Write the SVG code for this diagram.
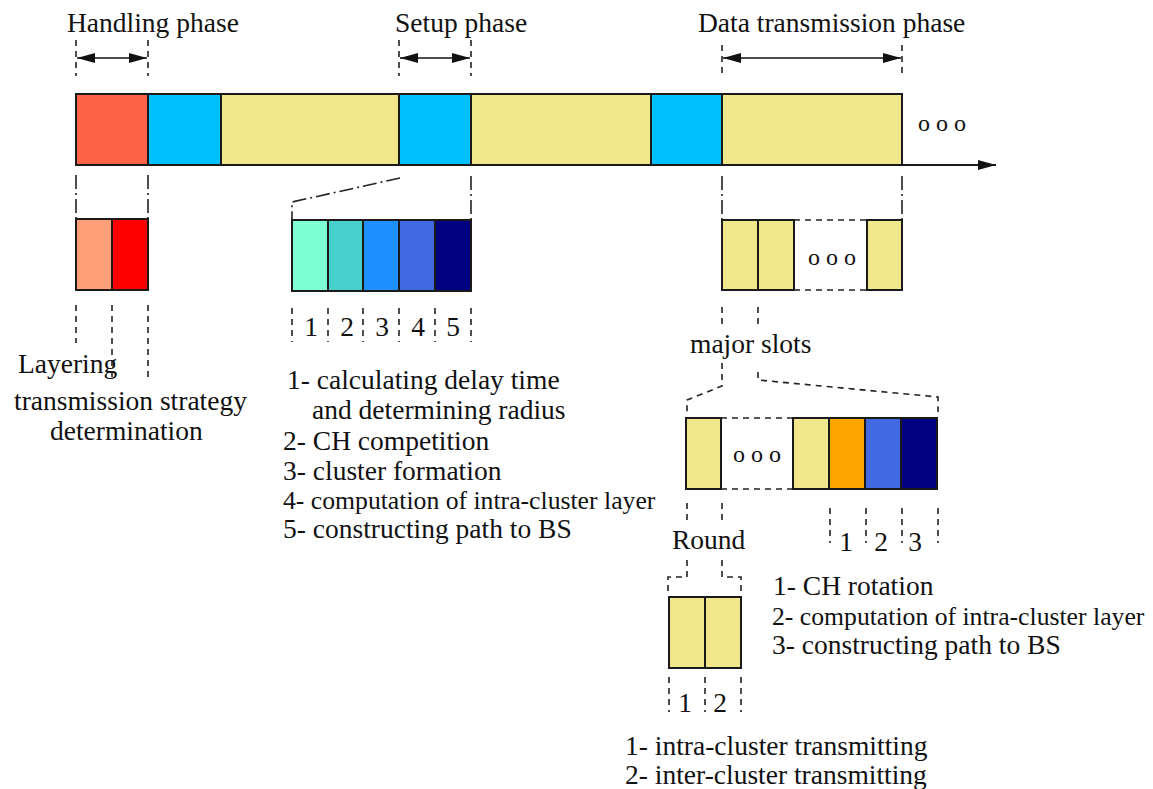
<svg xmlns="http://www.w3.org/2000/svg" width="1153" height="789" viewBox="0 0 1153 789">
<style>
.blk{stroke:#1a1a1a;stroke-width:2}
.dash{fill:none;stroke:#222;stroke-width:1.6;stroke-dasharray:6 5}
.dd{fill:none;stroke:#222;stroke-width:1.6;stroke-dasharray:14 4 2 4}
.arr{fill:none;stroke:#111;stroke-width:1.6}
text{font-family:"Liberation Serif","Times New Roman",serif;font-size:27.5px;fill:#111}
.num{text-anchor:middle}
.o{font-size:24px}
.nar{font-size:25.7px}
</style>
<defs>
<marker id="ah" markerUnits="userSpaceOnUse" markerWidth="18" markerHeight="10" refX="18" refY="5" orient="auto-start-reverse">
<path d="M0,0 L18,5 L0,10 z" fill="#111"/>
</marker>
</defs>
<rect width="1153" height="789" fill="#fff"/>

<g id="labels-top">
<text x="67" y="32">Handling phase</text>
<text x="395" y="32">Setup phase</text>
<text x="698" y="32">Data transmission phase</text>
</g>

<g id="main-bar">
<rect class="blk" x="76" y="94" width="72" height="71" fill="#FF6347"/>
<rect class="blk" x="148" y="94" width="73" height="71" fill="#00BFFF"/>
<rect class="blk" x="221" y="94" width="178" height="71" fill="#F0E68C"/>
<rect class="blk" x="399" y="94" width="72" height="71" fill="#00BFFF"/>
<rect class="blk" x="471" y="94" width="180" height="71" fill="#F0E68C"/>
<rect class="blk" x="651" y="94" width="71" height="71" fill="#00BFFF"/>
<rect class="blk" x="722" y="94" width="180" height="71" fill="#F0E68C"/>
<text class="o" x="918" y="131">o o o</text>
</g>

<g id="handling-sub">
<rect class="blk" x="76" y="219" width="36" height="71" fill="#FFA07A"/>
<rect class="blk" x="112" y="219" width="36" height="71" fill="#FF0000"/>
<text x="18" y="373">Layering</text>
<text x="14" y="410">transmission strategy</text>
<text x="50" y="440">determination</text>
</g>

<g id="setup-sub">
<rect class="blk" x="292" y="220" width="36" height="71" fill="#7FFFD4"/>
<rect class="blk" x="328" y="220" width="35" height="71" fill="#48D1CC"/>
<rect class="blk" x="363" y="220" width="36" height="71" fill="#1E90FF"/>
<rect class="blk" x="399" y="220" width="36" height="71" fill="#4169E1"/>
<rect class="blk" x="435" y="220" width="36" height="71" fill="#000080"/>
<text class="num" x="311" y="336">1</text>
<text class="num" x="347" y="336">2</text>
<text class="num" x="382" y="336">3</text>
<text class="num" x="418" y="336">4</text>
<text class="num" x="453" y="336">5</text>
<text x="287" y="389">1- calculating delay time</text>
<text x="312" y="419">and determining radius</text>
<text x="283" y="450">2- CH competition</text>
<text x="283" y="480">3- cluster formation</text>
<text class="nar" x="283" y="509">4- computation of intra-cluster layer</text>
<text x="283" y="538">5- constructing path to BS</text>
</g>

<g id="data-sub">
<rect class="blk" x="722" y="220" width="36" height="70" fill="#F0E68C"/>
<rect class="blk" x="758" y="220" width="36" height="70" fill="#F0E68C"/>
<path class="dash" d="M794,220 H867 M794,290 H867"/>
<text class="o" x="808" y="265">o o o</text>
<rect class="blk" x="867" y="220" width="35" height="70" fill="#F0E68C"/>
<text x="690" y="353">major slots</text>
</g>

<g id="slots-sub">
<rect class="blk" x="686" y="418" width="35" height="71" fill="#F0E68C"/>
<path class="dash" d="M721,418 H793 M721,489 H793"/>
<text class="o" x="733" y="462">o o o</text>
<rect class="blk" x="793" y="418" width="36" height="71" fill="#F0E68C"/>
<rect class="blk" x="829" y="418" width="36" height="71" fill="#FFA500"/>
<rect class="blk" x="865" y="418" width="36" height="71" fill="#4169E1"/>
<rect class="blk" x="901" y="418" width="36" height="71" fill="#000080"/>
<text class="num" x="846" y="551">1</text>
<text class="num" x="881" y="551">2</text>
<text class="num" x="915" y="551">3</text>
<text x="672" y="549">Round</text>
<text x="773" y="595">1- CH rotation</text>
<text class="nar" x="772" y="625">2- computation of intra-cluster layer</text>
<text x="772" y="654">3- constructing path to BS</text>
</g>

<g id="round-sub">
<rect class="blk" x="669" y="597" width="36" height="71" fill="#F0E68C"/>
<rect class="blk" x="705" y="597" width="36" height="71" fill="#F0E68C"/>
<text class="num" x="685" y="712">1</text>
<text class="num" x="720" y="712">2</text>
<text x="625" y="755">1- intra-cluster transmitting</text>
<text x="625" y="784">2- inter-cluster transmitting</text>
</g>

<g id="connectors">
<line class="blk" x1="76" y1="165" x2="996" y2="165" marker-end="url(#ah)"/>
<path class="dash" d="M76,40 V76 M148,40 V76 M399,40 V76 M471,40 V76 M722,45 V77 M902,45 V77"/>
<line class="arr" x1="77" y1="58" x2="147" y2="58" marker-start="url(#ah)" marker-end="url(#ah)"/>
<line class="arr" x1="400" y1="58" x2="470" y2="58" marker-start="url(#ah)" marker-end="url(#ah)"/>
<line class="arr" x1="723" y1="58" x2="901" y2="58" marker-start="url(#ah)" marker-end="url(#ah)"/>
<path class="dd" d="M76,175 V219 M148,175 V219"/>
<path class="dd" d="M400,178 L292,202 V220 M471,176 V220"/>
<path class="dd" d="M722,176 V220 M902,176 V220"/>
<path class="dash" d="M76,305 V343 M112,305 V380 M148,305 V380"/>
<path class="dash" d="M292,308 V342 M328,308 V342 M363,308 V342 M399,308 V342 M435,308 V342 M471,308 V342"/>
<path class="dash" d="M722,307 V327 M758,307 V327"/>
<path class="dash" d="M722,363 V386 L687,400 V412 M758,372 V380 L938,397 V412"/>
<path class="dash" d="M830,508 V543 M866,508 V543 M902,508 V543 M938,508 V543"/>
<path class="dash" d="M687,503 V523 M722,503 V523"/>
<path class="dash" d="M687,560 V577 H668 V593 M722,560 V577 H741 V593"/>
<path class="dash" d="M669,677 V712 M705,677 V712 M741,677 V712"/>
</g>
</svg>
